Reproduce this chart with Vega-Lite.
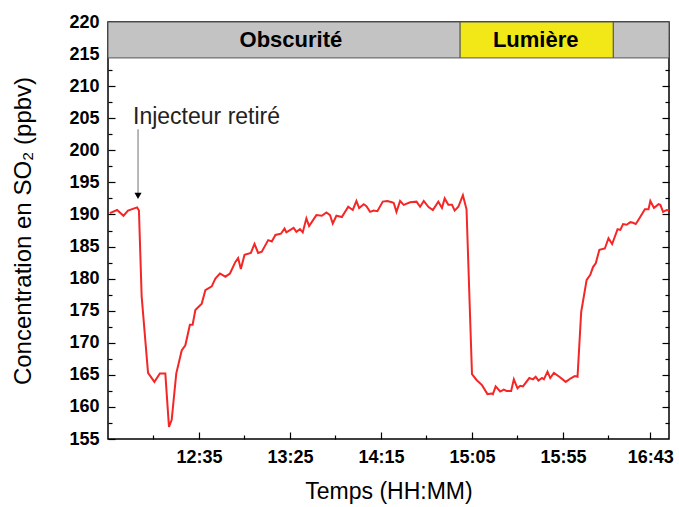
{
  "$schema": "https://vega.github.io/schema/vega-lite/v6.json",
  "width": 561,
  "height": 417,
  "autosize": {"type": "none"},
  "padding": {"left": 108, "top": 22, "right": 10, "bottom": 68},
  "background": "white",
  "config": {
    "view": {"stroke": "black", "strokeWidth": 1.5},
    "axis": {
      "grid": false,
      "domain": false,
      "tickColor": "black",
      "tickWidth": 1.2,
      "labelFont": "Liberation Sans",
      "labelFontWeight": "bold",
      "labelFontSize": 18,
      "labelColor": "black",
      "titleFont": "Liberation Sans",
      "titleFontWeight": "normal",
      "titleFontSize": 23,
      "titleColor": "black"
    }
  },
  "data": {
    "values": [
      {"t": "11:46:00", "so2": 190.2},
      {"t": "11:50:00", "so2": 190.7},
      {"t": "11:53:30", "so2": 189.8},
      {"t": "11:56:00", "so2": 190.6},
      {"t": "12:01:00", "so2": 191.1},
      {"t": "12:02:00", "so2": 190.6},
      {"t": "12:03:30", "so2": 177.2},
      {"t": "12:07:00", "so2": 165.3},
      {"t": "12:10:30", "so2": 163.9},
      {"t": "12:13:30", "so2": 165.2},
      {"t": "12:16:30", "so2": 165.2},
      {"t": "12:18:30", "so2": 156.9},
      {"t": "12:20:00", "so2": 158.0},
      {"t": "12:22:30", "so2": 165.2},
      {"t": "12:25:30", "so2": 168.8},
      {"t": "12:27:30", "so2": 169.6},
      {"t": "12:30:00", "so2": 172.8},
      {"t": "12:31:30", "so2": 172.8},
      {"t": "12:33:00", "so2": 175.1},
      {"t": "12:36:30", "so2": 176.1},
      {"t": "12:38:30", "so2": 178.2},
      {"t": "12:42:00", "so2": 178.8},
      {"t": "12:44:00", "so2": 180.0},
      {"t": "12:46:30", "so2": 180.8},
      {"t": "12:49:30", "so2": 180.3},
      {"t": "12:52:00", "so2": 180.8},
      {"t": "12:55:00", "so2": 182.6},
      {"t": "12:56:30", "so2": 183.2},
      {"t": "12:58:00", "so2": 181.5},
      {"t": "13:00:00", "so2": 183.7},
      {"t": "13:03:30", "so2": 184.0},
      {"t": "13:05:30", "so2": 185.4},
      {"t": "13:07:30", "so2": 184.0},
      {"t": "13:09:30", "so2": 184.2},
      {"t": "13:13:00", "so2": 186.0},
      {"t": "13:15:00", "so2": 185.8},
      {"t": "13:17:00", "so2": 186.8},
      {"t": "13:20:00", "so2": 187.0},
      {"t": "13:22:00", "so2": 187.8},
      {"t": "13:23:00", "so2": 187.2},
      {"t": "13:27:00", "so2": 187.9},
      {"t": "13:28:30", "so2": 187.3},
      {"t": "13:30:30", "so2": 187.7},
      {"t": "13:32:00", "so2": 187.2},
      {"t": "13:34:00", "so2": 189.4},
      {"t": "13:35:30", "so2": 188.2},
      {"t": "13:39:30", "so2": 189.9},
      {"t": "13:42:30", "so2": 189.8},
      {"t": "13:45:00", "so2": 190.3},
      {"t": "13:47:00", "so2": 189.9},
      {"t": "13:48:30", "so2": 188.6},
      {"t": "13:50:30", "so2": 189.8},
      {"t": "13:53:30", "so2": 189.6},
      {"t": "13:57:00", "so2": 191.2},
      {"t": "13:59:30", "so2": 190.7},
      {"t": "14:01:30", "so2": 192.1},
      {"t": "14:03:00", "so2": 191.0},
      {"t": "14:05:30", "so2": 191.6},
      {"t": "14:07:00", "so2": 191.3},
      {"t": "14:09:00", "so2": 190.4},
      {"t": "14:11:00", "so2": 190.6},
      {"t": "14:13:00", "so2": 190.5},
      {"t": "14:16:00", "so2": 192.0},
      {"t": "14:18:30", "so2": 192.1},
      {"t": "14:21:00", "so2": 191.9},
      {"t": "14:22:00", "so2": 191.8},
      {"t": "14:23:30", "so2": 190.4},
      {"t": "14:25:30", "so2": 192.1},
      {"t": "14:27:30", "so2": 191.5},
      {"t": "14:31:00", "so2": 191.9},
      {"t": "14:34:30", "so2": 192.0},
      {"t": "14:36:30", "so2": 191.2},
      {"t": "14:38:30", "so2": 192.1},
      {"t": "14:41:00", "so2": 191.2},
      {"t": "14:43:30", "so2": 190.7},
      {"t": "14:46:30", "so2": 192.0},
      {"t": "14:48:30", "so2": 191.0},
      {"t": "14:50:00", "so2": 192.5},
      {"t": "14:52:00", "so2": 191.5},
      {"t": "14:54:00", "so2": 191.5},
      {"t": "14:55:30", "so2": 190.6},
      {"t": "14:57:30", "so2": 191.2},
      {"t": "15:00:00", "so2": 193.0},
      {"t": "15:02:00", "so2": 190.8},
      {"t": "15:05:00", "so2": 165.1},
      {"t": "15:07:30", "so2": 164.2},
      {"t": "15:10:30", "so2": 163.4},
      {"t": "15:13:30", "so2": 162.0},
      {"t": "15:16:00", "so2": 162.1},
      {"t": "15:16:30", "so2": 162.0},
      {"t": "15:18:00", "so2": 163.2},
      {"t": "15:20:30", "so2": 162.4},
      {"t": "15:22:30", "so2": 162.7},
      {"t": "15:24:00", "so2": 162.5},
      {"t": "15:26:30", "so2": 162.5},
      {"t": "15:28:00", "so2": 164.3},
      {"t": "15:30:00", "so2": 162.9},
      {"t": "15:31:30", "so2": 163.3},
      {"t": "15:33:00", "so2": 163.2},
      {"t": "15:36:30", "so2": 164.5},
      {"t": "15:38:30", "so2": 164.3},
      {"t": "15:40:00", "so2": 164.7},
      {"t": "15:41:30", "so2": 164.1},
      {"t": "15:43:30", "so2": 164.5},
      {"t": "15:44:30", "so2": 164.3},
      {"t": "15:46:30", "so2": 165.5},
      {"t": "15:48:00", "so2": 164.5},
      {"t": "15:50:00", "so2": 165.3},
      {"t": "15:53:00", "so2": 164.7},
      {"t": "15:56:30", "so2": 163.9},
      {"t": "15:59:30", "so2": 164.5},
      {"t": "16:01:30", "so2": 164.8},
      {"t": "16:03:00", "so2": 164.7},
      {"t": "16:05:00", "so2": 174.8},
      {"t": "16:08:00", "so2": 179.8},
      {"t": "16:10:00", "so2": 180.6},
      {"t": "16:11:30", "so2": 181.8},
      {"t": "16:13:00", "so2": 182.4},
      {"t": "16:15:00", "so2": 184.5},
      {"t": "16:18:00", "so2": 184.7},
      {"t": "16:20:00", "so2": 186.3},
      {"t": "16:22:00", "so2": 185.4},
      {"t": "16:25:00", "so2": 187.7},
      {"t": "16:26:30", "so2": 187.6},
      {"t": "16:28:00", "so2": 188.5},
      {"t": "16:30:00", "so2": 188.4},
      {"t": "16:32:00", "so2": 188.8},
      {"t": "16:33:30", "so2": 188.7},
      {"t": "16:35:00", "so2": 188.5},
      {"t": "16:37:00", "so2": 189.4},
      {"t": "16:40:00", "so2": 190.8},
      {"t": "16:42:00", "so2": 190.8},
      {"t": "16:43:00", "so2": 192.1},
      {"t": "16:45:00", "so2": 191.0},
      {"t": "16:47:30", "so2": 191.6},
      {"t": "16:48:30", "so2": 191.5},
      {"t": "16:50:00", "so2": 190.4},
      {"t": "16:52:00", "so2": 190.7},
      {"t": "16:53:15", "so2": 190.6}
    ],
    "format": {"parse": {"t": "date:'%H:%M:%S'"}}
  },
  "resolve": {"axis": {"x": "independent", "y": "independent"}},
  "layer": [
    {
      "data": {
        "values": [
          {"phase": "Obscurité", "start": "11:45:00", "end": "14:58:30"},
          {"phase": "Lumière", "start": "14:58:30", "end": "16:22:40"},
          {"phase": "Obscurité", "start": "16:22:40", "end": "16:53:15"}
        ],
        "format": {"parse": {"start": "date:'%H:%M:%S'", "end": "date:'%H:%M:%S'"}}
      },
      "mark": {"type": "rect", "stroke": "#555555", "strokeWidth": 1},
      "encoding": {
        "x": {"field": "start", "type": "temporal", "axis": null,
              "scale": {"domain": [{"year": 1900, "month": 1, "date": 1, "hours": 11, "minutes": 45}, {"year": 1900, "month": 1, "date": 1, "hours": 16, "minutes": 53, "seconds": 15}]}},
        "x2": {"field": "end"},
        "y": {"datum": 214.4, "type": "quantitative", "axis": null, "scale": {"domain": [155, 220], "nice": false, "zero": false}},
        "y2": {"datum": 220},
        "color": {"field": "phase", "type": "nominal", "legend": null,
                  "scale": {"domain": ["Obscurité", "Lumière"], "range": ["#c3c3c3", "#f2e817"]}}
      }
    },
    {
      "data": {
        "values": [
          {"phase": "Obscurité", "t": "13:25:30"},
          {"phase": "Lumière", "t": "15:40:00"}
        ],
        "format": {"parse": {"t": "date:'%H:%M:%S'"}}
      },
      "mark": {"type": "text", "font": "Liberation Sans", "fontWeight": "bold", "fontSize": 22, "color": "black", "baseline": "middle", "align": "center"},
      "encoding": {
        "x": {"field": "t", "type": "temporal", "axis": null},
        "y": {"datum": 217.2, "type": "quantitative", "axis": null},
        "text": {"field": "phase"}
      }
    },
    {
      "mark": {"type": "line", "color": "#f42626", "strokeWidth": 2, "clip": true},
      "encoding": {
        "x": {"field": "t", "type": "temporal", "title": "Temps (HH:MM)",
              "axis": {"orient": "bottom", "format": "%H:%M", "tickSize": -7, "labelPadding": 16, "titlePadding": 14,
                       "values": [
                         {"year": 1900, "month": 1, "date": 1, "hours": 12, "minutes": 35},
                         {"year": 1900, "month": 1, "date": 1, "hours": 13, "minutes": 25},
                         {"year": 1900, "month": 1, "date": 1, "hours": 14, "minutes": 15},
                         {"year": 1900, "month": 1, "date": 1, "hours": 15, "minutes": 5},
                         {"year": 1900, "month": 1, "date": 1, "hours": 15, "minutes": 55},
                         {"year": 1900, "month": 1, "date": 1, "hours": 16, "minutes": 43}
                       ]}},
        "y": {"field": "so2", "type": "quantitative", "title": "Concentration en SO₂ (ppbv)",
              "axis": {"orient": "left", "tickSize": -7, "labelPadding": 16, "titlePadding": 33, "titleFontSize": 24,
                       "values": [155, 160, 165, 170, 175, 180, 185, 190, 195, 200, 205, 210, 215, 220]}}
      }
    },
    {
      "mark": {"type": "point", "opacity": 0},
      "encoding": {
        "x": {"field": "t", "type": "temporal",
              "axis": {"orient": "bottom", "tickSize": -4, "labels": false, "title": null,
                       "values": [
                         {"year": 1900, "month": 1, "date": 1, "hours": 12, "minutes": 10},
                         {"year": 1900, "month": 1, "date": 1, "hours": 13, "minutes": 0},
                         {"year": 1900, "month": 1, "date": 1, "hours": 13, "minutes": 50},
                         {"year": 1900, "month": 1, "date": 1, "hours": 14, "minutes": 40},
                         {"year": 1900, "month": 1, "date": 1, "hours": 15, "minutes": 30},
                         {"year": 1900, "month": 1, "date": 1, "hours": 16, "minutes": 20}
                       ]}},
        "y": {"field": "so2", "type": "quantitative",
              "axis": {"orient": "left", "tickSize": -4, "labels": false, "title": null,
                       "values": [157.5, 162.5, 167.5, 172.5, 177.5, 182.5, 187.5, 192.5, 197.5, 202.5, 207.5, 212.5, 217.5]}}
      }
    },
    {
      "mark": {"type": "point", "opacity": 0},
      "encoding": {
        "x": {"field": "t", "type": "temporal", "axis": null},
        "y": {"field": "so2", "type": "quantitative",
              "axis": {"orient": "right", "tickSize": -7, "labels": false, "title": null,
                       "values": [160, 165, 170, 175, 180, 185, 190, 195, 200, 205, 210, 215]}}
      }
    },
    {
      "mark": {"type": "point", "opacity": 0},
      "encoding": {
        "x": {"field": "t", "type": "temporal", "axis": null},
        "y": {"field": "so2", "type": "quantitative",
              "axis": {"orient": "right", "tickSize": -4, "labels": false, "title": null,
                       "values": [157.5, 162.5, 167.5, 172.5, 177.5, 182.5, 187.5, 192.5, 197.5, 202.5, 207.5, 212.5, 217.5]}}
      }
    },
    {
      "data": {
        "values": [
          {"t": "12:01:30", "top": 203.3, "tip": 192.9, "label_t": "11:58:45", "label_y": 205.2, "label": "Injecteur retiré"}
        ],
        "format": {"parse": {"t": "date:'%H:%M:%S'", "label_t": "date:'%H:%M:%S'"}}
      },
      "layer": [
        {
          "mark": {"type": "rule", "color": "#8a8a8a", "strokeWidth": 1.2},
          "encoding": {
            "x": {"field": "t", "type": "temporal", "axis": null},
            "y": {"field": "top", "type": "quantitative", "axis": null},
            "y2": {"field": "tip"}
          }
        },
        {
          "mark": {"type": "point", "shape": "triangle-down", "filled": true, "color": "black", "size": 50, "opacity": 1},
          "encoding": {
            "x": {"field": "t", "type": "temporal", "axis": null},
            "y": {"field": "tip", "type": "quantitative", "axis": null}
          }
        },
        {
          "mark": {"type": "text", "font": "Liberation Sans", "fontSize": 23, "color": "#222222", "align": "left", "baseline": "middle"},
          "encoding": {
            "x": {"field": "label_t", "type": "temporal", "axis": null},
            "y": {"field": "label_y", "type": "quantitative", "axis": null},
            "text": {"field": "label"}
          }
        }
      ]
    }
  ]
}
